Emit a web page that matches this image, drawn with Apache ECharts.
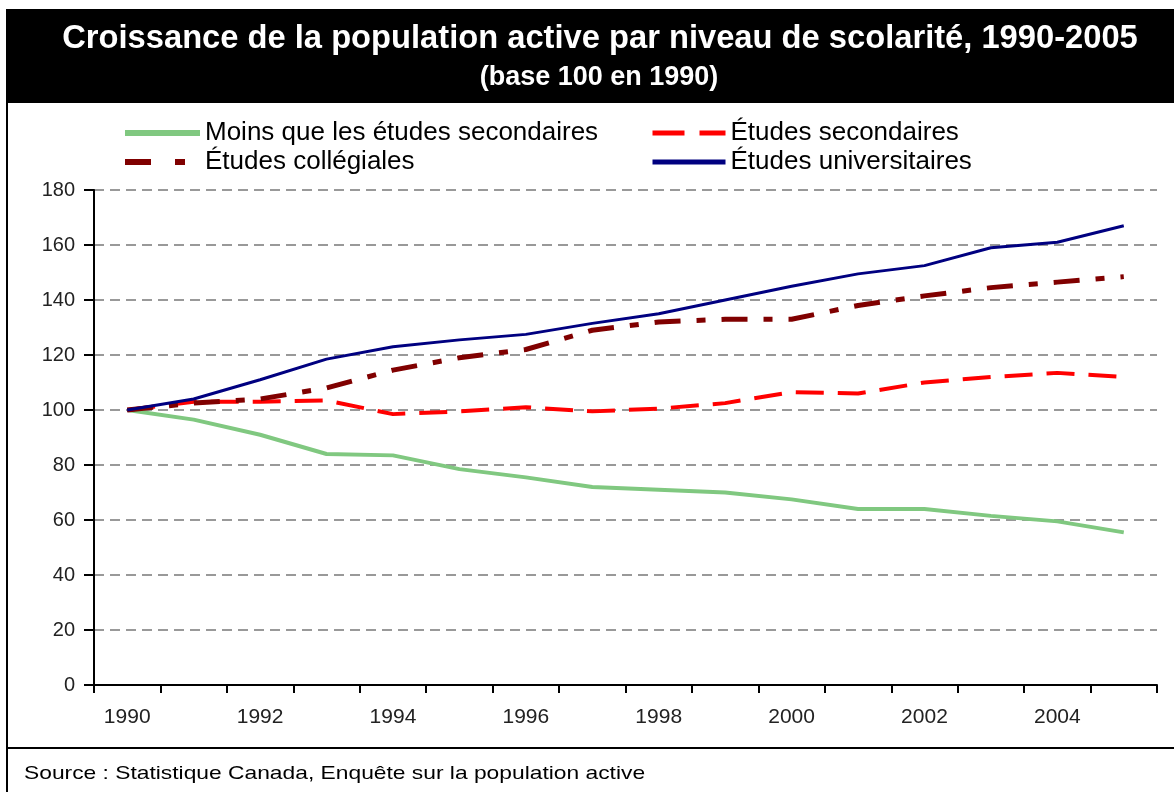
<!DOCTYPE html>
<html>
<head>
<meta charset="utf-8">
<script src="https://cdn.jsdelivr.net/npm/echarts@6/dist/echarts.min.js"></script>
<style>
  html, body { margin: 0; padding: 0; background: #fff; }
  #chart { width: 1174px; height: 792px; }
</style>
</head>
<body>
<div id="chart"></div>
<script>
var years = ['1990','1991','1992','1993','1994','1995','1996','1997','1998','1999','2000','2001','2002','2003','2004','2005'];
var yTicks = [0, 20, 40, 60, 80, 100, 120, 140, 160, 180];

var moinsSec   = [100, 96.5, 91, 84, 83.5, 78.5, 75.5, 72, 71, 70, 67.5, 64, 64, 61.5, 59.5, 55.5];
var secondaires = [100, 103, 103, 103.5, 98.5, 99.5, 101, 99.5, 100.5, 102.5, 106.5, 106, 110, 112, 113.5, 112];
var collegiales = [100, 102.5, 104, 108, 114.5, 119, 122, 129, 132, 133, 133, 138, 141.5, 144.5, 146.5, 148.5];
var universitaires = [100, 104, 111, 118.5, 123, 125.5, 127.5, 131.5, 135, 140, 145, 149.5, 152.5, 159, 161, 167];

var names = ['Moins que les études secondaires', 'Études secondaires', 'Études collégiales', 'Études universitaires'];
var colors = ['#80c880', '#ff0000', '#800000', '#000080'];

var myChart = echarts.init(document.getElementById('chart'));

var legendText = { fontFamily: 'Liberation Sans', fontSize: 26, color: '#000' };

myChart.setOption({
    animation: false,
    textStyle: { fontFamily: 'Liberation Sans' },
    graphic: [
        { type: 'rect', z: -1, shape: { x: 6, y: 9, width: 1168, height: 94 }, style: { fill: '#000' } },
        { type: 'text', x: 600, y: 39, style: { text: 'Croissance de la population active par niveau de scolarité, 1990-2005', fontSize: 32.7, fontWeight: 'bold', fontFamily: 'Liberation Sans', fill: '#fff', textAlign: 'center', textVerticalAlign: 'middle' } },
        { type: 'text', x: 599, y: 78, style: { text: '(base 100 en 1990)', fontSize: 27, fontWeight: 'bold', fontFamily: 'Liberation Sans', fill: '#fff', textAlign: 'center', textVerticalAlign: 'middle' } },
        { type: 'line', shape: { x1: 7, y1: 103, x2: 7, y2: 792 }, style: { stroke: '#000', lineWidth: 2 } },
        { type: 'line', shape: { x1: 6, y1: 748, x2: 1174, y2: 748 }, style: { stroke: '#000', lineWidth: 2 } },
        { type: 'text', x: 24, y: 774, scaleX: 1.2, style: { text: 'Source : Statistique Canada, Enquête sur la population active', fontSize: 19, fontFamily: 'Liberation Sans', fill: '#000', textVerticalAlign: 'middle' } }
    ],
    legend: [
        {
            data: [
                { name: names[0], lineStyle: { width: 6 } },
                { name: names[2], lineStyle: { width: 6, type: [26, 24, 10, 24] } }
            ],
            orient: 'vertical',
            left: 122, top: 120, padding: 0,
            itemWidth: 75, itemHeight: 14, itemGap: 3,
            itemStyle: { opacity: 0 },
            textStyle: legendText
        },
        {
            data: [
                { name: names[1], lineStyle: { width: 5, type: [32, 15] } },
                { name: names[3], lineStyle: { width: 5 } }
            ],
            orient: 'vertical',
            left: 650, top: 120, padding: 0,
            itemWidth: 73, itemHeight: 14, itemGap: 3,
            itemStyle: { opacity: 0 },
            textStyle: legendText
        }
    ],
    grid: { left: 94, right: 17, top: 190, bottom: 107 },
    xAxis: {
        type: 'category',
        data: years,
        boundaryGap: true,
        axisLine: { lineStyle: { color: '#000', width: 2 } },
        axisTick: { show: true, length: 8, interval: 0, lineStyle: { color: '#000', width: 2 } },
        axisLabel: { interval: 1, color: '#222', fontSize: 21, margin: 22, fontFamily: 'Liberation Sans' },
        splitLine: { show: false }
    },
    yAxis: {
        type: 'value',
        min: yTicks[0],
        max: yTicks[yTicks.length - 1],
        interval: 20,
        axisLine: { show: true, lineStyle: { color: '#000', width: 2 } },
        axisTick: { show: true, length: 10, lineStyle: { color: '#000', width: 2 } },
        axisLabel: { color: '#222', fontSize: 20, margin: 19, fontFamily: 'Liberation Sans' },
        splitLine: { show: true, lineStyle: { color: '#999', width: 2, type: [10, 6] } }
    },
    series: [
        {
            name: names[0], type: 'line', data: moinsSec, symbol: 'none', z: 3,
            lineStyle: { color: colors[0], width: 4 }, itemStyle: { color: colors[0] }
        },
        {
            name: names[1], type: 'line', data: secondaires, symbol: 'none', z: 4,
            lineStyle: { color: colors[1], width: 4, type: [28, 14] }, itemStyle: { color: colors[1] }
        },
        {
            name: names[2], type: 'line', data: collegiales, symbol: 'none', z: 5,
            lineStyle: { color: colors[2], width: 5, type: [26, 16, 9, 16] }, itemStyle: { color: colors[2] }
        },
        {
            name: names[3], type: 'line', data: universitaires, symbol: 'none', z: 6,
            lineStyle: { color: colors[3], width: 3 }, itemStyle: { color: colors[3] }
        }
    ]
});
</script>
</body>
</html>
